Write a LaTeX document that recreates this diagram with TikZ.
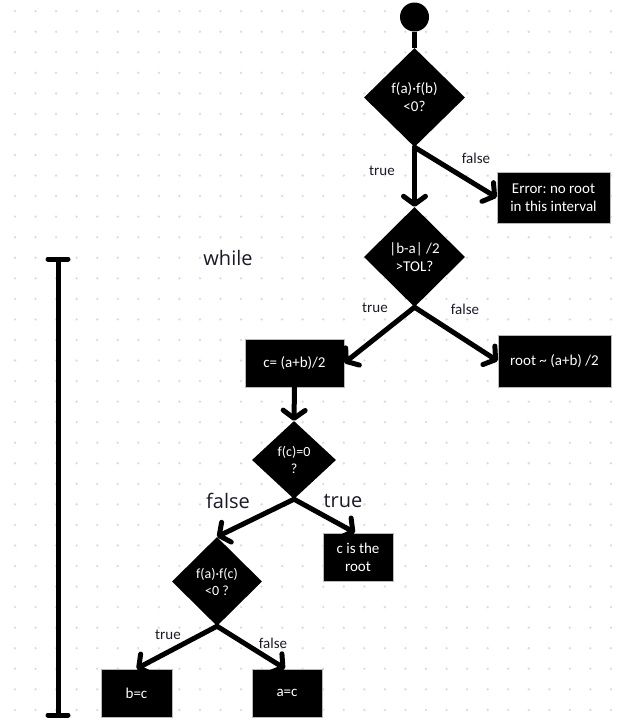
\documentclass[tikz,border=0pt]{standalone}
\usepackage{fontspec}
\setmainfont{Carlito}
\newfontfamily\bigfont{Open Sans}
\usetikzlibrary{shapes.geometric,arrows.meta}
\definecolor{dotgray}{HTML}{D9DCE2}
\definecolor{ink}{HTML}{1B1B28}
\frenchspacing
\begin{document}
\begin{tikzpicture}[x=1pt,y=-1pt,
  dec/.style={diamond, fill=black, text=white, inner sep=0pt, align=center,
    font=\fontsize{15}{18}\selectfont},
  box/.style={rectangle, fill=black, draw=gray!55, line width=0.6pt, text=white,
    align=center, inner sep=0pt, font=\fontsize{15}{18}\selectfont},
  flow/.style={line width=5pt, line cap=round,
    -{Straight Barb[length=8pt,width=22pt,round]}},
  plain/.style={line width=5pt},
  lbl/.style={font=\fontsize{15}{17}\selectfont, text=ink, inner sep=0pt},
  big/.style={font=\bigfont\fontsize{20}{24}\selectfont, text=ink, inner sep=0pt}
]
\useasboundingbox (0,0) rectangle (626,724);
\fill[white] (0,0) rectangle (626,724);
% dot grid
\foreach \i in {0,...,29}{
  \foreach \j in {0,...,34}{
    \fill[dotgray] (15+20.55*\i, 11.15+20.55*\j) circle (1.3);
  }
}
% nodes
\node[circle, fill=black, minimum size=29pt, inner sep=0] (start) at (414.5,17) {};
\node[dec, minimum width=101pt, minimum height=99pt] (d1) at (414.5,97.5) {f(a)·f(b)\\<0?};
\node[dec, minimum width=101pt, minimum height=100pt] (d2) at (414.5,257) {|b-a| /2\\>TOL?};
\node[dec, minimum width=84pt, minimum height=78pt, font=\fontsize{14}{17}\selectfont] (d3) at (294,460) {f(c)=0\\?};
\node[dec, minimum width=90pt, minimum height=89pt, font=\fontsize{14}{17}\selectfont] (d4) at (217,581.5) {f(a)·f(c)\\<0 ?};

\node[box, minimum width=113pt, minimum height=51pt] (err) at (553.5,197.5) {Error: no root\\in this interval};
\node[box, minimum width=99pt, minimum height=48pt] (cbox) at (294.5,363) {c= (a+b)/2};
\node[box, minimum width=113pt, minimum height=52pt] (rootb) at (554.5,361) {root \textasciitilde{} (a+b) /2};
\node[box, minimum width=70pt, minimum height=48pt] (rootc) at (358,557) {c is the\\root};
\node[box, minimum width=71pt, minimum height=48pt] (bc) at (136.5,693) {b=c};
\node[box, minimum width=70pt, minimum height=48pt] (ac) at (287,693) {a=c};

% labels
\node[lbl] (t1) at (382,171) {true};
\node[lbl] (f1) at (476,158) {false};
\node[lbl] (t2) at (375,308) {true};
\node[lbl] (f2) at (465,309) {false};
\node[big] (f3) at (228,501) {false};
\node[big] (t3) at (343,501) {true};
\node[lbl] (t4) at (168,635) {true};
\node[lbl] (f4) at (273,643) {false};
\node[big] (wh) at (228,258) {while};

% connectors
\draw[plain] (start.south) -- (d1.north);
\draw[flow] (d1.south) -- (d2.north);
\draw[flow] (d1.south) -- (err.west);
\draw[flow] (d2.south) -- (cbox.east);
\draw[flow] (d2.south) -- (rootb.west);
\draw[flow] (cbox.south) -- (d3.north);
\draw[flow] (d3.south) -- (d4.north);
\draw[flow] (d3.south) -- ([xshift=-3pt]rootc.north);
\draw[flow] (d4.south) -- (bc.north);
\draw[flow] (d4.south) -- ([xshift=-2pt]ac.north);

% while bracket
\draw[line width=5pt, line cap=round] (48,259) -- (68,259);
\draw[line width=5pt] (58,259) -- (58,715);
\draw[line width=5pt, line cap=round] (48,715) -- (68,715);
\end{tikzpicture}
\end{document}
